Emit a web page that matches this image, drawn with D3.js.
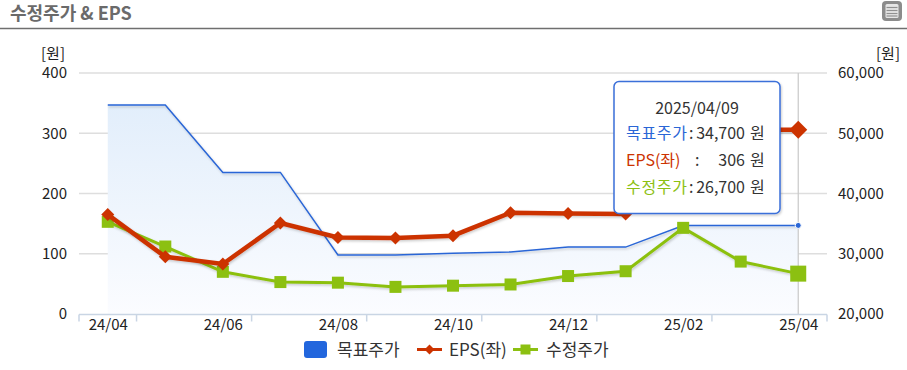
<!DOCTYPE html>
<html>
<head>
<meta charset="utf-8">
<script src="https://d3js.org/d3.v7.min.js"></script>
<style>
  body { margin: 0; background: #fff; }
  svg text { font-family: "Malgun Gothic", "Noto Sans CJK KR", sans-serif; }
</style>
</head>
<body>
<script>
  // chart data
  const months = ["24/04","24/05","24/06","24/07","24/08","24/09","24/10","24/11","24/12","25/01","25/02","25/03","25/04"];
  const targetPrice = [54700, 54700, 43500, 43500, 29800, 29800, 30100, 30300, 31100, 31100, 34700, 34700, 34700];
  const eps = [165, 95, 83, 151, 127, 126, 130, 168, 167, 166, 306, 306, 306];
  const adjPrice = [35300, 31200, 27000, 25300, 25200, 24500, 24700, 24900, 26300, 27100, 34300, 28700, 26700];
  const leftTicks = [0, 100, 200, 300, 400];
  const rightTicks = [20000, 30000, 40000, 50000, 60000];
  const xLabels = ["24/04","24/06","24/08","24/10","24/12","25/02","25/04"];
  const legendNames = ["목표주가", "EPS(좌)", "수정주가"];
  const tipDate = "2025/04/09";

  const width = 907, height = 370;
  const blue = "#2a66d6", red = "#cc3300", green = "#8cc011";

  const svg = d3.select("body").append("svg")
    .attr("width", width).attr("height", height);

  const defs = svg.append("defs");
  const grad = defs.append("linearGradient").attr("id", "areaGrad")
    .attr("x1", 0).attr("y1", 0).attr("x2", 0).attr("y2", 1);
  grad.append("stop").attr("offset", "0%").attr("stop-color", "#e2eefb");
  grad.append("stop").attr("offset", "100%").attr("stop-color", "#fbfcff");
  const sh = defs.append("filter").attr("id", "shadow")
    .attr("x", "-5%").attr("y", "-5%").attr("width", "115%").attr("height", "130%");
  sh.append("feDropShadow").attr("dx", 1).attr("dy", 1.5).attr("stdDeviation", 1)
    .attr("flood-color", "#000").attr("flood-opacity", 0.2);

  // title bar
  svg.append("text").attr("x", 10).attr("y", 20)
    .attr("font-size", 18).attr("font-weight", "bold").attr("fill", "#6a6a6a")
    .text("수정주가 & EPS");
  svg.append("line").attr("x1", 0).attr("x2", width).attr("y1", 28.5).attr("y2", 28.5)
    .attr("stroke", "#6f6f6f").attr("stroke-width", 1.5);
  const menu = svg.append("g");
  menu.append("rect").attr("x", 882).attr("y", 1).attr("width", 20).attr("height", 20)
    .attr("rx", 4).attr("fill", "#8c8c8c");
  menu.append("rect").attr("x", 885.5).attr("y", 4).attr("width", 13).attr("height", 14)
    .attr("rx", 1.5).attr("fill", "#e6e6e6");
  [7.5, 10.5, 13.5, 16].forEach(y => menu.append("line")
    .attr("x1", 886.5).attr("x2", 897.5).attr("y1", y).attr("y2", y)
    .attr("stroke", "#909090").attr("stroke-width", 1.2));

  const margin = {left: 79, right: 80, top: 73, bottom: 56};
  const x = d3.scaleBand().domain(months).range([margin.left, width - margin.right]);
  const cx = d => x(d) + x.bandwidth() / 2;
  const yL = d3.scaleLinear().domain([0, 400]).range([height - margin.bottom, margin.top]);
  const yR = d3.scaleLinear().domain([20000, 60000]).range([height - margin.bottom, margin.top]);
  const y0 = yL(0);

  // grid
  svg.append("g").selectAll("line").data(leftTicks.slice(1)).join("line")
    .attr("x1", margin.left).attr("x2", width - margin.right)
    .attr("y1", d => yL(d)).attr("y2", d => yL(d))
    .attr("stroke", "#dedede").attr("stroke-width", 1.5);

  // y axes
  const tickFont = g => g.selectAll("text").attr("font-size", 15).attr("fill", "#222");
  svg.append("g").attr("transform", `translate(${margin.left - 10},0)`)
    .call(d3.axisLeft(yL).tickValues(leftTicks).tickSize(0).tickPadding(2))
    .call(g => g.select(".domain").remove())
    .call(tickFont);
  svg.append("g").attr("transform", `translate(${width - margin.right + 10},0)`)
    .call(d3.axisRight(yR).tickValues(rightTicks).tickSize(0).tickPadding(1).tickFormat(d3.format(",")))
    .call(g => g.select(".domain").remove())
    .call(tickFont);
  svg.append("text").attr("x", 65).attr("y", 59).attr("text-anchor", "end")
    .attr("font-size", 15).attr("fill", "#222").text("[원]");
  svg.append("text").attr("x", 900).attr("y", 59).attr("text-anchor", "end")
    .attr("font-size", 15).attr("fill", "#222").text("[원]");

  // target price area + line
  const area = d3.area().x(d => cx(d.m)).y0(y0).y1(d => yR(d.v));
  const line = d3.line().x(d => cx(d.m));
  const tp = months.map((m, i) => ({m, v: targetPrice[i]}));
  svg.append("path").datum(tp).attr("d", area).attr("fill", "url(#areaGrad)");
  svg.append("path").datum(tp).attr("d", line.y(d => yR(d.v)))
    .attr("fill", "none").attr("stroke", blue).attr("stroke-width", 1.5).attr("filter", "url(#shadow)");

  // crosshair at hovered point
  const last = months[months.length - 1];
  svg.append("line").attr("x1", cx(last)).attr("x2", cx(last))
    .attr("y1", margin.top).attr("y2", y0).attr("stroke", "#c8c8c8").attr("stroke-width", 1.2);

  // x axis
  const xb = svg.append("g").attr("transform", `translate(0,${y0 + 0.5})`);
  xb.append("line").attr("x1", margin.left).attr("x2", width - margin.right)
    .attr("stroke", "#c9d5e4").attr("stroke-width", 1.5);
  const tickPos = [0, 1, 3, 5, 7, 9, 11].map(i => x(months[i])).concat([width - margin.right]);
  xb.selectAll(".tk").data(tickPos).join("line").attr("class", "tk")
    .attr("x1", d => d).attr("x2", d => d).attr("y1", 0).attr("y2", 7)
    .attr("stroke", "#c9d5e4").attr("stroke-width", 1.5);
  const xAxis = d3.axisBottom(d3.scalePoint().domain(months).range([cx(months[0]), cx(last)]))
    .tickValues(xLabels).tickSize(0).tickPadding(5);
  xb.append("g").call(xAxis).call(g => g.select(".domain").remove()).call(tickFont);

  // adjusted price (right axis)
  const ap = months.map((m, i) => ({m, v: adjPrice[i]}));
  svg.append("path").datum(ap).attr("d", d3.line().x(d => cx(d.m)).y(d => yR(d.v)))
    .attr("fill", "none").attr("stroke", green).attr("stroke-width", 3).attr("filter", "url(#shadow)");
  svg.append("g").selectAll("rect").data(ap).join("rect")
    .attr("x", (d, i) => cx(d.m) - (i === 12 ? 8 : 6))
    .attr("y", (d, i) => yR(d.v) - (i === 12 ? 8 : 6))
    .attr("width", (d, i) => i === 12 ? 16 : 12).attr("height", (d, i) => i === 12 ? 16 : 12)
    .attr("fill", green);

  // EPS (left axis)
  const ep = months.map((m, i) => ({m, v: eps[i]}));
  svg.append("path").datum(ep).attr("d", d3.line().x(d => cx(d.m)).y(d => yL(d.v)))
    .attr("fill", "none").attr("stroke", red).attr("stroke-width", 4.5).attr("filter", "url(#shadow)");
  svg.append("g").selectAll("path").data(ep).join("path")
    .attr("transform", d => `translate(${cx(d.m)},${yL(d.v)})`)
    .attr("d", (d, i) => { const r = i === 12 ? 9 : 6.5; return `M0,${-r}L${r},0L0,${r}L${-r},0Z`; })
    .attr("fill", red);

  // hover dot on target line
  svg.append("circle").attr("cx", cx(last)).attr("cy", yR(targetPrice[12])).attr("r", 3)
    .attr("fill", blue).attr("stroke", "#fff").attr("stroke-width", 1);

  // tooltip
  const tip = svg.append("g");
  tip.append("rect").attr("x", 614).attr("y", 81.5).attr("width", 166).attr("height", 132)
    .attr("rx", 5).attr("fill", "#fff").attr("stroke", "#3b6fd9").attr("stroke-width", 1.5)
    .attr("filter", "url(#shadow)");
  tip.append("text").attr("x", 697).attr("y", 114).attr("text-anchor", "middle")
    .attr("font-size", 16).attr("fill", "#333").text(tipDate);
  const rows = [
    {name: legendNames[0], c: blue, v: d3.format(",")(targetPrice[12]), y: 139, colon: 689},
    {name: legendNames[1], c: red, v: d3.format(",")(eps[12]), y: 166, colon: 695},
    {name: legendNames[2], c: green, v: d3.format(",")(adjPrice[12]), y: 193, colon: 689}
  ];
  rows.forEach(r => {
    tip.append("text").attr("x", 626).attr("y", r.y).attr("font-size", 16).attr("fill", r.c)
      .attr("textLength", r.name.length === 4 ? 61 : null).text(r.name);
    tip.append("text").attr("x", r.colon).attr("y", r.y).attr("font-size", 16).attr("fill", "#333").text(":");
    tip.append("text").attr("x", 745).attr("y", r.y).attr("text-anchor", "end")
      .attr("font-size", 16).attr("fill", "#333").text(r.v);
    tip.append("text").attr("x", 750).attr("y", r.y).attr("font-size", 16).attr("fill", "#333").text("원");
  });

  // legend
  const lg = svg.append("g");
  lg.append("rect").attr("x", 304).attr("y", 341).attr("width", 23).attr("height", 17)
    .attr("rx", 3).attr("fill", "#2266dd");
  lg.append("text").attr("x", 337).attr("y", 356).attr("font-size", 17).attr("fill", "#333").text(legendNames[0]);
  lg.append("line").attr("x1", 417).attr("x2", 442).attr("y1", 349.5).attr("y2", 349.5)
    .attr("stroke", red).attr("stroke-width", 3);
  lg.append("path").attr("transform", "translate(429.5,349.5)").attr("d", "M0,-5L5,0L0,5L-5,0Z").attr("fill", red);
  lg.append("text").attr("x", 449).attr("y", 356).attr("font-size", 17).attr("fill", "#333").text(legendNames[1]);
  lg.append("line").attr("x1", 513).attr("x2", 538).attr("y1", 349.5).attr("y2", 349.5)
    .attr("stroke", green).attr("stroke-width", 3);
  lg.append("rect").attr("x", 520.5).attr("y", 344.5).attr("width", 10).attr("height", 10).attr("fill", green);
  lg.append("text").attr("x", 546).attr("y", 356).attr("font-size", 17).attr("fill", "#333").text(legendNames[2]);
</script>
</body>
</html>
